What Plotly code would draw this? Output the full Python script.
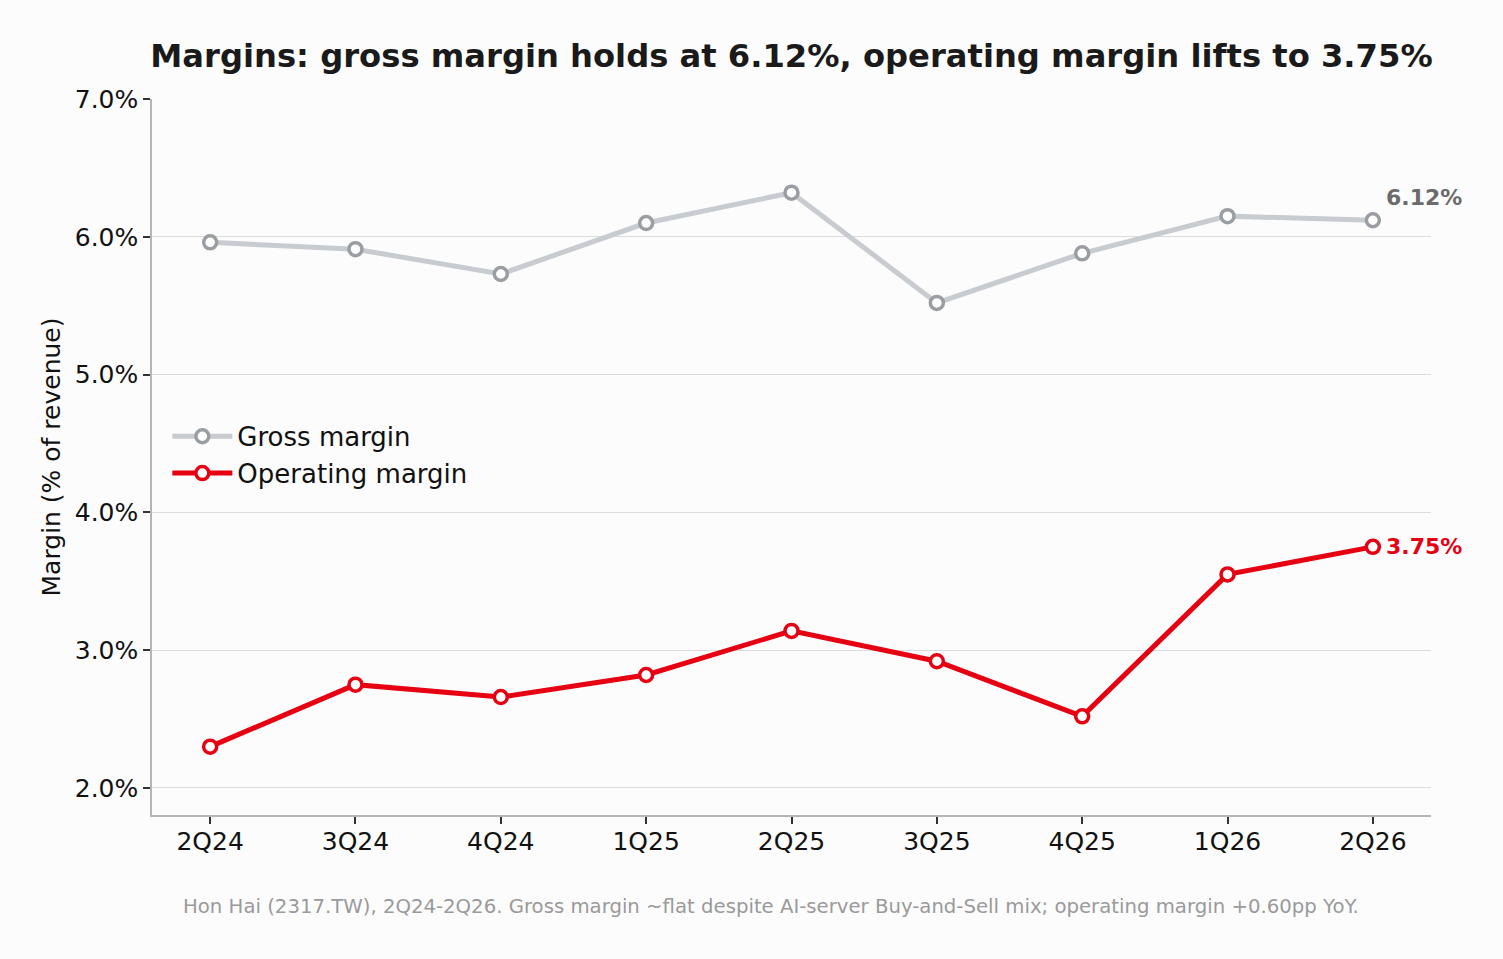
import plotly.graph_objects as go

quarters = ["2Q24", "3Q24", "4Q24", "1Q25", "2Q25", "3Q25", "4Q25", "1Q26", "2Q26"]
gross_margin = [5.96, 5.91, 5.73, 6.10, 6.32, 5.52, 5.88, 6.15, 6.12]
operating_margin = [2.30, 2.75, 2.66, 2.82, 3.14, 2.92, 2.52, 3.55, 3.75]
y_ticks = [2.0, 3.0, 4.0, 5.0, 6.0, 7.0]

FONT = "DejaVu Sans"
RED = "#e60012"

fig = go.Figure()
fig.add_trace(go.Scatter(
    x=quarters, y=gross_margin, name="Gross margin", mode="lines+markers",
    line=dict(color="#c8cbcf", width=5),
    marker=dict(size=13, color="white", line=dict(color="#9a9ea3", width=3.5)),
))
fig.add_trace(go.Scatter(
    x=quarters, y=operating_margin, name="Operating margin", mode="lines+markers",
    line=dict(color=RED, width=5),
    marker=dict(size=13, color="white", line=dict(color=RED, width=3.5)),
))

# end-point labels
fig.add_annotation(x=quarters[-1], y=gross_margin[-1], text=f"<b>{gross_margin[-1]:.2f}%</b>",
                   showarrow=False, xanchor="left", yanchor="middle", xshift=11, yshift=23,
                   font=dict(family=FONT, size=22, color="#6b6b6b"))
fig.add_annotation(x=quarters[-1], y=operating_margin[-1], text=f"<b>{operating_margin[-1]:.2f}%</b>",
                   showarrow=False, xanchor="left", yanchor="middle", xshift=11,
                   font=dict(family=FONT, size=22, color=RED))

fig.add_annotation(
    text="Hon Hai (2317.TW), 2Q24-2Q26. Gross margin ~flat despite AI-server Buy-and-Sell mix; operating margin +0.60pp YoY.",
    xref="paper", yref="paper", x=0.484, y=-0.128, showarrow=False,
    xanchor="center", yanchor="middle", font=dict(family=FONT, size=19.7, color="#9a9a9a"),
)

fig.update_layout(
    width=1503, height=959,
    paper_bgcolor="#fcfcfc", plot_bgcolor="#fcfcfc",
    margin=dict(l=152, r=72, t=99, b=144),
    font=dict(family=FONT, size=25, color="#111111"),
    title=dict(text="<b>Margins: gross margin holds at 6.12%, operating margin lifts to 3.75%</b>",
               x=0.5, xref="paper", xanchor="center", y=1 - 56 / 959, yref="container",
               yanchor="middle", font=dict(family=FONT, size=32.2, color="#1a1a1a")),
    showlegend=True,
    legend=dict(x=0.012, y=0.503, xanchor="left", yanchor="middle", bgcolor="rgba(0,0,0,0)",
                font=dict(family=FONT, size=26, color="#111111"), itemwidth=60),
    xaxis=dict(type="category", range=[-0.4, 8.4], showgrid=False,
               showline=True, linecolor="#b5b5b5", linewidth=1.5,
               ticks="outside", ticklen=7, tickcolor="#333333", tickwidth=1.5,
               ticklabelstandoff=-4,
               tickfont=dict(family=FONT, size=25, color="#111111")),
    yaxis=dict(range=[1.804, 7.0], tickmode="array", tickvals=y_ticks,
               ticktext=[f"{v:.1f}%" for v in y_ticks],
               showgrid=True, gridcolor="#dcdcdc", gridwidth=1, zeroline=False,
               showline=True, linecolor="#b5b5b5", linewidth=1.5,
               ticks="outside", ticklen=7, tickcolor="#333333", tickwidth=1.5,
               tickfont=dict(family=FONT, size=25, color="#111111"),
               title=dict(text="Margin (% of revenue)", font=dict(family=FONT, size=25, color="#111111"),
                          standoff=7)),
)

fig.write_html("out.html", config={"displayModeBar": False},
               post_script="document.body.style.margin='0';")
